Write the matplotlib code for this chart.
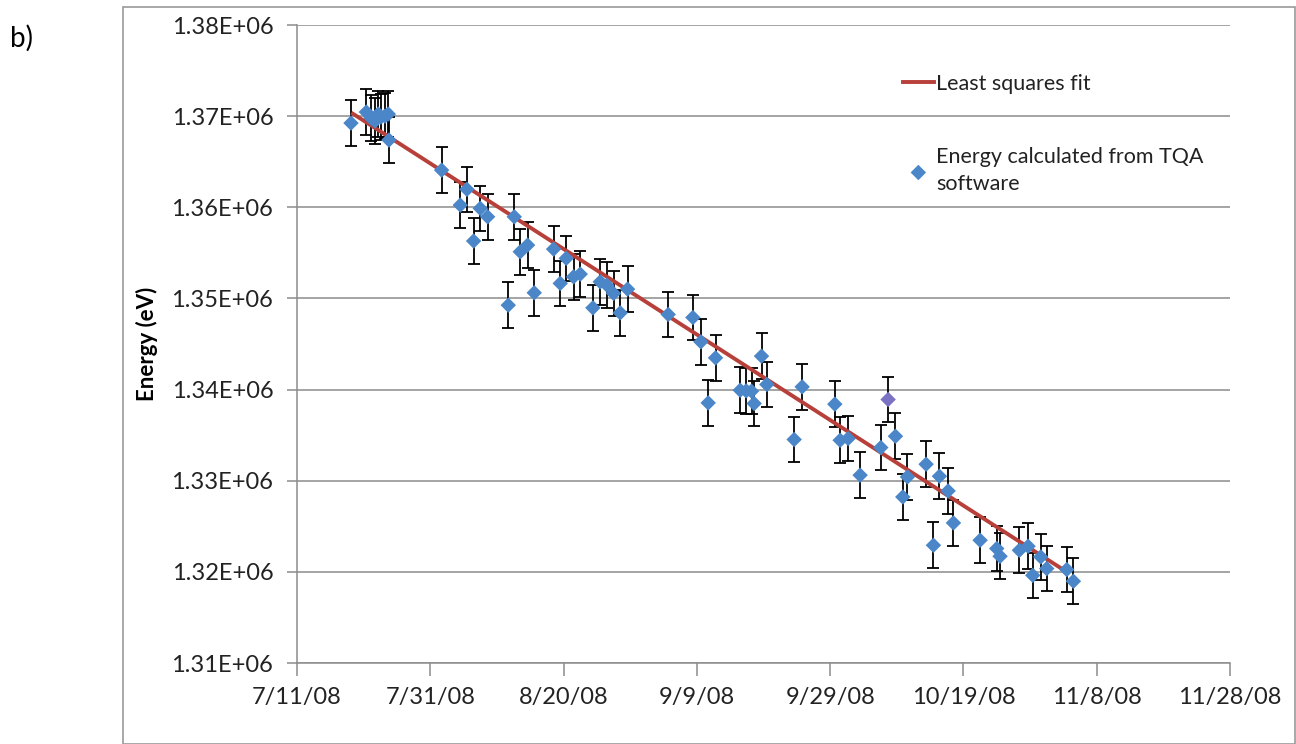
import matplotlib
matplotlib.use("Agg")
import matplotlib.pyplot as plt
import matplotlib.dates as mdates
import numpy as np
from matplotlib.patches import Rectangle
from matplotlib.ticker import FuncFormatter, FixedLocator, MultipleLocator

# dias desde 11/07/2008 e energia medida (eV)
dias = [8.1, 10.4, 11.1, 11.7, 12.2, 12.6, 13.2, 13.7, 13.8,
        21.7, 24.5, 25.5, 26.5, 27.5, 28.6, 31.7, 32.6, 33.5, 34.6, 35.6,
        38.5, 39.5, 40.4, 41.5, 42.5, 44.4, 45.5, 46.5, 47.5, 48.5, 49.6,
        55.7, 59.4, 60.6, 61.7, 62.8, 66.5, 67.4, 68.2, 68.6, 69.7, 70.5,
        74.6, 75.8, 80.7, 81.5, 82.7, 84.5, 87.6, 88.7, 89.8, 90.9, 91.6,
        94.4, 95.5, 96.4, 97.7, 98.5, 102.5, 105.0, 105.5, 108.4, 109.7,
        110.4, 111.6, 112.5, 115.5, 116.5]
energia = [1.36924e6, 1.37045e6, 1.36980e6, 1.36946e6, 1.37023e6, 1.36990e6,
           1.37001e6, 1.37023e6, 1.36738e6,
           1.36408e6, 1.36024e6, 1.36197e6, 1.35630e6, 1.35988e6, 1.35896e6,
           1.34926e6, 1.35896e6, 1.35512e6, 1.35585e6, 1.35062e6,
           1.35541e6, 1.35165e6, 1.35440e6, 1.35237e6, 1.35267e6, 1.34897e6,
           1.35182e6, 1.35146e6, 1.35055e6, 1.34842e6, 1.35102e6,
           1.34824e6, 1.34791e6, 1.34524e6, 1.33854e6, 1.34348e6, 1.33993e6,
           1.33986e6, 1.33982e6, 1.33847e6, 1.34367e6, 1.34056e6,
           1.33452e6, 1.34030e6, 1.33840e6, 1.33444e6, 1.33463e6, 1.33061e6,
           1.33364e6, 1.33891e6, 1.33488e6, 1.32822e6, 1.33042e6,
           1.33181e6, 1.32292e6, 1.33049e6, 1.32888e6, 1.32537e6, 1.32347e6,
           1.32256e6, 1.32171e6, 1.32237e6, 1.32281e6,
           1.31962e6, 1.32164e6, 1.32036e6, 1.32025e6, 1.31897e6]
erro = 2500  # barra de erro (eV)
ponto_destacado = 49  # ponto com cor diferente

# reta de minimos quadrados (eV no dia 0, eV por dia)
fit_intercepto = 1.37420e6
fit_inclinacao = -469.3
fit_dias = [8.4, 115.5]

# eixo x: 11/07/08 ate 28/11/08 a cada 20 dias
ticks_dias = [0, 20, 40, 60, 80, 100, 120, 140]

plt.rcParams['font.family'] = ['Lato', 'DejaVu Sans']

base = mdates.date2num(np.datetime64('2008-07-11'))
x = base + np.array(dias)
y = np.array(energia)
x_fit = base + np.array(fit_dias)
y_fit = fit_intercepto + fit_inclinacao * np.array(fit_dias)

fig = plt.figure(figsize=(12.96, 7.44), dpi=100)
ax = fig.add_axes([297 / 1296, 81 / 744, 933 / 1296, 638 / 744])

# moldura do grafico
fig.patches.append(Rectangle((123 / 1296, 0), 1 - 123 / 1296 - 0.0008, 1 - 7 / 744,
                             transform=fig.transFigure, fill=False,
                             edgecolor='#9a9a9a', linewidth=1.2))

ax.errorbar(x, y, yerr=erro, fmt='none', ecolor='black', elinewidth=1.3,
            capsize=4, capthick=1.3, zorder=2)
ax.plot(x_fit, y_fit, color='#b8403a', linewidth=2.8, zorder=3,
        label='Least squares fit')
cores = ['#4a86c8'] * len(x)
cores[ponto_destacado] = '#7b72c4'
ax.scatter(x, y, marker='D', s=62, c=cores, edgecolors='none', zorder=4,
           label='Energy calculated from TQA\nsoftware')

ax.set_xlim(base, base + 140)
ax.set_ylim(1.31e6, 1.38e6)
ax.xaxis.set_major_locator(FixedLocator(base + np.array(ticks_dias)))


def data_curta(v, p):
    d = mdates.num2date(v)
    return f"{d.month}/{d.day}/{d.strftime('%y')}"


ax.xaxis.set_major_formatter(FuncFormatter(data_curta))
ax.yaxis.set_major_locator(MultipleLocator(10000))
ax.yaxis.set_major_formatter(FuncFormatter(lambda v, p: f"{v:.2E}"))

ax.grid(axis='y', color='#8c8c8c', linewidth=1.1)
ax.set_axisbelow(True)
for lado in ['top', 'right']:
    ax.spines[lado].set_visible(False)
for lado in ['left', 'bottom']:
    ax.spines[lado].set_color('#8c8c8c')
    ax.spines[lado].set_linewidth(1.1)
ax.tick_params(axis='both', colors='#8c8c8c', labelcolor='#222222',
               labelsize=17, width=1.1, direction='out')
ax.tick_params(axis='x', length=9, pad=8)
ax.tick_params(axis='y', length=7, pad=10)

ax.set_ylabel('Energy (eV)', fontsize=16, fontweight='bold')
ax.yaxis.set_label_coords(-0.149, 0.5)

leg = ax.legend(loc='upper left', bbox_to_anchor=(0.64, 0.937), frameon=False,
                fontsize=15.5, handlelength=1.45, handletextpad=0.1,
                labelspacing=2.45, scatterpoints=1, borderaxespad=0)
for t in leg.get_texts():
    t.set_linespacing(1.45)
    t.set_color('#222222')

fig.text(10 / 1296, 1 - 38 / 744, 'b)', fontsize=20, va='center', ha='left')

fig.savefig('out.png', dpi=100)
